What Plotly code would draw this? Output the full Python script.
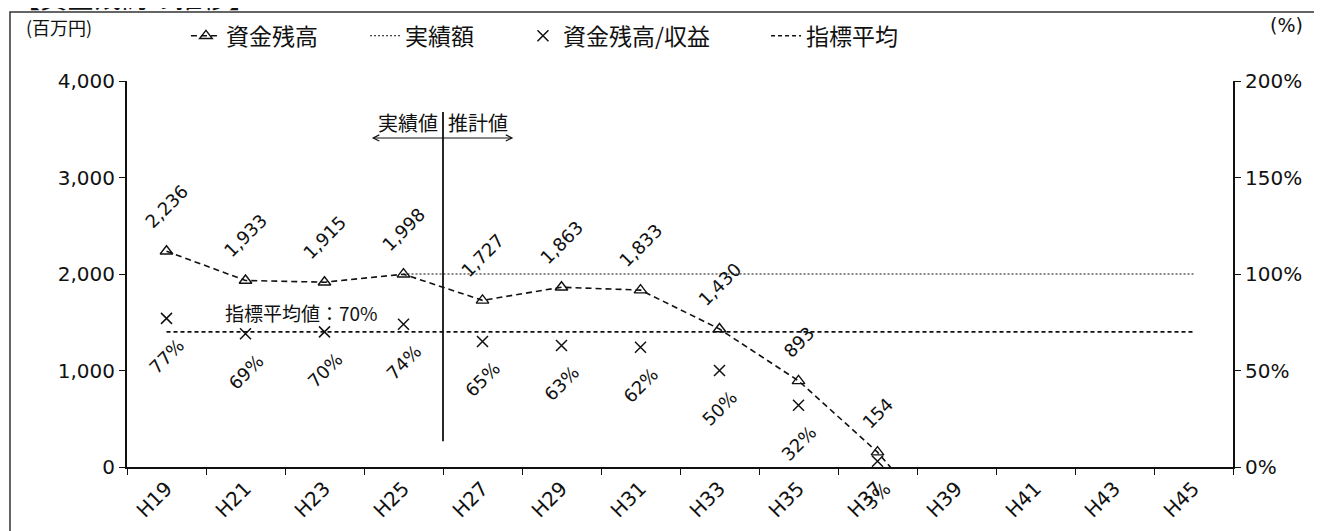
import plotly.graph_objects as go

# 年度 (カテゴリ)
years = ["H19", "H21", "H23", "H25", "H27", "H29", "H31",
         "H33", "H35", "H37", "H39", "H41", "H43", "H45"]

# 資金残高 (百万円) - H39 はマイナスで枠外
balance = [2236, 1933, 1915, 1998, 1727, 1863, 1833, 1430, 893, 154, -800,
           None, None, None]

# 実績額 (百万円)
actual = [None, None, None, 2000, 2000, 2000, 2000, 2000, 2000, 2000, 2000,
          2000, 2000, 2000]

# 資金残高/収益 (%)
ratio = [77, 69, 70, 74, 65, 63, 62, 50, 32, 3, None, None, None, None]

# 指標平均 (%)
index_avg = [70, 70, 70, 70, 70, 70, 70, 70, 70, 70, 70, 70, 70, 70]
index_avg_label = "指標平均値：70%"

NUM_FONT = "DejaVu Sans, Noto Sans CJK JP"
JP_FONT = "Noto Sans CJK JP, DejaVu Sans"
BLACK = "#111111"

fig = go.Figure()

fig.add_trace(go.Scatter(
    x=years, y=balance, name="資金残高", mode="lines+markers", legend="legend",
    line=dict(color=BLACK, width=1.6, dash="6px,4px"),
    marker=dict(symbol="triangle-up-open", size=11, color=BLACK, line=dict(width=1.4)),
))
fig.add_trace(go.Scatter(
    x=years, y=actual, name="実績額", mode="lines", legend="legend2",
    line=dict(color=BLACK, width=1.1, dash="2px,2px"),
))
fig.add_trace(go.Scatter(
    x=years, y=ratio, name="資金残高/収益", mode="markers", yaxis="y2", legend="legend3",
    marker=dict(symbol="x-thin-open", size=11, color=BLACK, line=dict(width=1.5, color=BLACK)),
))
fig.add_trace(go.Scatter(
    x=years, y=index_avg, name="指標平均", mode="lines", yaxis="y2", legend="legend4",
    line=dict(color=BLACK, width=1.6, dash="4px,3px"),
))

# データラベル
annotations = []
for yr, v in zip(years, balance):
    if v is None or v < 0:
        continue
    annotations.append(dict(
        x=yr, y=v, xref="x", yref="y", text=f"{v:,}", showarrow=False,
        textangle=-45, xanchor="center", yanchor="bottom", yshift=16,
        font=dict(family=NUM_FONT, size=18, color=BLACK),
    ))
for yr, v in zip(years, ratio):
    if v is None:
        continue
    annotations.append(dict(
        x=yr, y=v, xref="x", yref="y2", text=f"{v}%", showarrow=False,
        textangle=-45, xanchor="center", yanchor="top", yshift=-14,
        font=dict(family=NUM_FONT, size=18, color=BLACK),
    ))

annotations += [
    dict(x=0.158, y=0.40, xref="x domain", yref="y domain", text=index_avg_label,
         showarrow=False, xanchor="center", yanchor="middle",
         font=dict(family=JP_FONT, size=19, color=BLACK)),
    dict(x=3.5, y=0.893, xref="x", yref="y domain", text="実績値", showarrow=False,
         xanchor="right", yanchor="middle", xshift=-3,
         font=dict(family=JP_FONT, size=20, color=BLACK)),
    dict(x=3.5, y=0.893, xref="x", yref="y domain", text="推計値", showarrow=False,
         xanchor="left", yanchor="middle", xshift=3,
         font=dict(family=JP_FONT, size=20, color=BLACK)),
    dict(x=4.39, y=3410, xref="x", yref="y", ax=2.58, ay=3410, axref="x", ayref="y",
         text="", showarrow=True, arrowside="end+start", arrowhead=5, arrowsize=1.1,
         arrowwidth=1.1, arrowcolor=BLACK),
    dict(x=-0.0615, y=1.139, xref="paper", yref="paper", text="(百万円)", showarrow=False,
         xanchor="center", yanchor="middle",
         font=dict(family=JP_FONT, size=18, color=BLACK)),
    dict(x=1.0488, y=1.146, xref="paper", yref="paper", text="(%)", showarrow=False,
         xanchor="center", yanchor="middle",
         font=dict(family=NUM_FONT, size=19, color=BLACK)),
    dict(x=0.007, y=1.163, xref="paper", yref="paper", text="【資金残高の推移】",
         showarrow=False, xanchor="center", yanchor="bottom",
         font=dict(family=JP_FONT, size=27, color=BLACK)),
]

shapes = [
    # 実績値/推計値 の区切り線
    dict(type="line", xref="x", yref="y domain", x0=3.5, x1=3.5, y0=0.067, y1=0.92,
         line=dict(color=BLACK, width=1.8)),
    # 外枠
    dict(type="rect", xref="paper", yref="paper", x0=-0.1058, x1=1.09, y0=-0.25, y1=1.179,
         line=dict(color="#333333", width=1.5)),
]

legend_style = dict(orientation="h", y=1.117, xanchor="left", yanchor="middle",
                    font=dict(family=JP_FONT, size=23, color=BLACK),
                    bgcolor="rgba(0,0,0,0)", borderwidth=0)

fig.update_layout(
    width=1314, height=523,
    margin=dict(l=119, r=89, t=73, b=64, autoexpand=False),
    paper_bgcolor="white", plot_bgcolor="white",
    font=dict(family=NUM_FONT, size=18, color=BLACK),
    showlegend=True,
    legend=dict(x=0.0533, **legend_style),
    legend2=dict(x=0.2152, **legend_style),
    legend3=dict(x=0.358, **legend_style),
    legend4=dict(x=0.5778, **legend_style),
    annotations=annotations,
    shapes=shapes,
    xaxis=dict(type="category", categoryorder="array", categoryarray=years,
               tickson="boundaries", ticks="outside", ticklen=6, tickcolor=BLACK,
               tickangle=-45, showgrid=False, showline=True, linecolor=BLACK,
               linewidth=2, zeroline=False, range=[-0.5, 13.5], automargin=False,
               tickfont=dict(family=NUM_FONT, size=20, color=BLACK)),
    yaxis=dict(range=[0, 4000], dtick=1000, tickformat=",", ticks="outside",
               ticklen=6, tickcolor=BLACK, showgrid=False, showline=True,
               linecolor=BLACK, linewidth=2, zeroline=False, automargin=False,
               tickfont=dict(family=NUM_FONT, size=20, color=BLACK)),
    yaxis2=dict(range=[0, 200], dtick=50, ticksuffix="%", overlaying="y", side="right",
                ticks="outside", ticklen=6, tickcolor=BLACK, showgrid=False,
                showline=True, linecolor=BLACK, linewidth=2, zeroline=False,
                automargin=False,
                tickfont=dict(family=NUM_FONT, size=20, color=BLACK)),
)

fig.write_html("out.html")
